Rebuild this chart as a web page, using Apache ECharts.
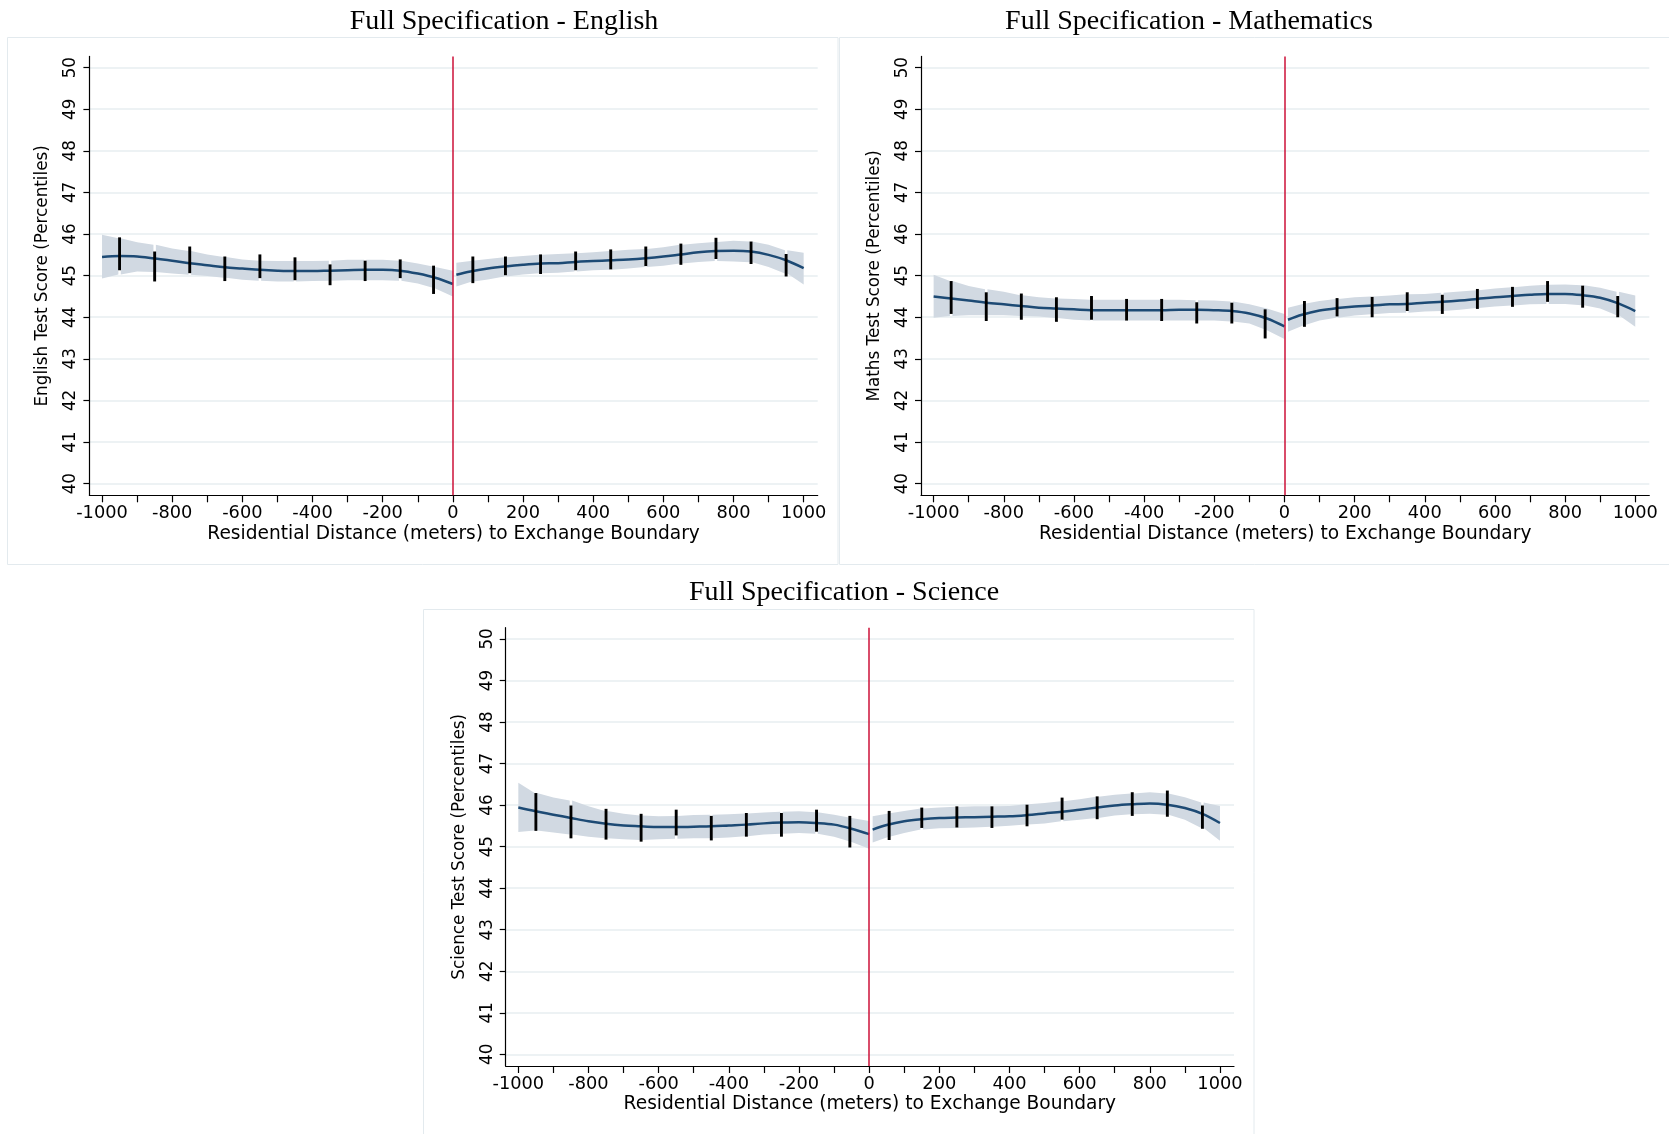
<!DOCTYPE html>
<html><head><meta charset="utf-8">
<script src="https://cdn.jsdelivr.net/npm/echarts@6/dist/echarts.min.js"></script>
<style>html,body{margin:0;padding:0;background:#fff}#c{width:1669px;height:1134px}</style>
</head><body><div id="c"></div>
<script>
// ---------- data ----------
const distLeft  = [-1000,-950,-900,-850,-800,-750,-700,-650,-600,-550,-500,-450,-400,-350,-300,-250,-200,-150,-100,-50,0];
const distRight = [10,50,100,150,200,250,300,350,400,450,500,550,600,650,700,750,800,850,900,950,1000];
const barDist   = [-950,-850,-750,-650,-550,-450,-350,-250,-150,-55,57,150,250,350,450,550,650,750,850,950];
const segLeft   = [[-1000,-950],[-950,-850],[-850,-750],[-750,-650],[-650,-550],[-550,-450],[-450,-350],[-350,-250],[-250,-150],[-150,0]];
const segRight  = [[10,150],[150,250],[250,350],[350,450],[450,550],[550,650],[650,750],[750,850],[850,950],[950,1000]];
const xTicks      = [-1000,-900,-800,-700,-600,-500,-400,-300,-200,-100,0,100,200,300,400,500,600,700,800,900,1000];
const xTickLabels = [-1000,-800,-600,-400,-200,0,200,400,600,800,1000];
const yTicks      = [40,41,42,43,44,45,46,47,48,49,50];

const titles = ['Full Specification - English','Full Specification - Mathematics','Full Specification - Science'];
const yNames = ['English Test Score (Percentiles)','Maths Test Score (Percentiles)','Science Test Score (Percentiles)'];
const xName  = 'Residential Distance (meters) to Exchange Boundary';

// English
const engLineL = [45.45,45.47,45.46,45.41,45.36,45.30,45.25,45.20,45.17,45.14,45.12,45.11,45.11,45.12,45.13,45.14,45.14,45.12,45.05,44.95,44.80];
const engHiL   = [45.98,45.90,45.80,45.74,45.65,45.59,45.51,45.45,45.39,45.36,45.35,45.35,45.35,45.36,45.38,45.38,45.38,45.36,45.29,45.21,45.12];
const engLoL   = [44.93,45.03,45.10,45.09,45.05,45.02,44.99,44.95,44.90,44.88,44.86,44.86,44.87,44.88,44.89,44.89,44.89,44.88,44.81,44.69,44.50];
const engLineR = [45.02,45.10,45.17,45.22,45.26,45.29,45.30,45.33,45.35,45.37,45.39,45.42,45.46,45.51,45.56,45.59,45.60,45.58,45.50,45.37,45.18];
const engHiR   = [45.31,45.35,45.40,45.44,45.47,45.50,45.52,45.54,45.56,45.59,45.62,45.64,45.68,45.74,45.78,45.81,45.84,45.82,45.74,45.61,45.55];
const engLoR   = [44.74,44.85,44.91,44.98,45.03,45.06,45.07,45.10,45.13,45.14,45.17,45.21,45.24,45.29,45.33,45.35,45.34,45.32,45.21,45.05,44.79];
const engBarLo = [45.13,44.86,45.06,44.87,44.94,44.89,44.77,44.87,44.94,44.56,44.82,45.01,45.04,45.13,45.15,45.23,45.26,45.40,45.28,44.98];
const engBarHi = [45.92,45.58,45.70,45.46,45.51,45.44,45.27,45.36,45.39,45.24,45.46,45.46,45.51,45.58,45.63,45.70,45.77,45.91,45.82,45.52];

// Mathematics
const matLineL = [44.50,44.45,44.40,44.35,44.31,44.27,44.23,44.21,44.19,44.17,44.17,44.17,44.17,44.17,44.18,44.18,44.17,44.15,44.09,43.97,43.78];
const matHiL   = [45.02,44.87,44.75,44.67,44.61,44.53,44.48,44.45,44.44,44.42,44.42,44.42,44.42,44.42,44.42,44.41,44.40,44.38,44.31,44.21,44.08];
const matLoL   = [43.99,44.03,44.05,44.05,44.05,44.03,44.02,43.98,43.94,43.92,43.92,43.92,43.92,43.92,43.92,43.92,43.92,43.90,43.85,43.69,43.48];
const matLineR = [43.94,44.06,44.16,44.22,44.26,44.28,44.31,44.32,44.35,44.37,44.40,44.44,44.48,44.51,44.54,44.56,44.56,44.53,44.47,44.34,44.15];
const matHiR   = [44.23,44.31,44.39,44.44,44.48,44.50,44.52,44.55,44.56,44.59,44.62,44.65,44.69,44.72,44.76,44.78,44.79,44.77,44.71,44.61,44.52];
const matLoR   = [43.65,43.79,43.92,43.99,44.04,44.07,44.10,44.11,44.14,44.15,44.18,44.22,44.26,44.28,44.31,44.32,44.32,44.29,44.21,44.05,43.77];
const matBarLo = [44.08,43.91,43.94,43.89,43.94,43.92,43.91,43.85,43.85,43.49,43.77,44.02,44.00,44.15,44.08,44.20,44.25,44.37,44.23,44.00];
const matBarHi = [44.87,44.60,44.57,44.48,44.51,44.44,44.44,44.36,44.35,44.19,44.39,44.46,44.49,44.60,44.54,44.68,44.73,44.87,44.76,44.51];

// Science
const sciLineL = [45.94,45.85,45.77,45.69,45.61,45.55,45.51,45.49,45.47,45.47,45.48,45.49,45.51,45.53,45.56,45.58,45.59,45.57,45.53,45.43,45.30];
const sciHiL   = [46.54,46.29,46.18,46.11,45.97,45.86,45.79,45.75,45.73,45.74,45.76,45.77,45.78,45.80,45.82,45.84,45.85,45.83,45.77,45.69,45.62];
const sciLoL   = [45.35,45.39,45.34,45.29,45.24,45.20,45.18,45.16,45.18,45.19,45.20,45.20,45.22,45.25,45.29,45.31,45.33,45.31,45.24,45.11,44.95];
const sciLineR = [45.41,45.52,45.61,45.66,45.69,45.70,45.71,45.72,45.73,45.76,45.80,45.84,45.89,45.94,45.99,46.02,46.04,46.01,45.93,45.79,45.57];
const sciHiR   = [45.73,45.79,45.86,45.92,45.94,45.96,45.97,45.97,45.98,46.02,46.05,46.09,46.14,46.20,46.25,46.28,46.31,46.28,46.19,46.06,45.98];
const sciLoR   = [45.10,45.22,45.33,45.41,45.44,45.45,45.46,45.48,45.50,45.53,45.56,45.61,45.65,45.69,45.75,45.78,45.79,45.77,45.65,45.45,45.14];
const sciBarLo = [45.38,45.20,45.17,45.12,45.27,45.15,45.24,45.24,45.36,44.98,45.16,45.45,45.46,45.45,45.49,45.65,45.66,45.74,45.72,45.43];
const sciBarHi = [46.29,45.99,45.91,45.79,45.89,45.74,45.81,45.81,45.89,45.74,45.86,45.94,45.97,45.97,46.01,46.18,46.21,46.31,46.35,45.99];

// ---------- styling / layout ----------
const LINE_COLOR = '#1d4a74';
const BAND_COLOR = '#d1d9e2';
const RED = '#cc1138';
const SANS = 'DejaVu Sans';
const SERIF = 'Liberation Serif';

const panels = [
  {lineL:engLineL, hiL:engHiL, loL:engLoL, lineR:engLineR, hiR:engHiR, loR:engLoR, bLo:engBarLo, bHi:engBarHi},
  {lineL:matLineL, hiL:matHiL, loL:matLoL, lineR:matLineR, hiR:matHiR, loR:matLoR, bLo:matBarLo, bHi:matBarHi},
  {lineL:sciLineL, hiL:sciHiL, loL:sciLoL, lineR:sciLineR, hiR:sciHiR, loR:sciLoR, bLo:sciBarLo, bHi:sciBarHi}
];
const grids = [
  {left:89.4, top:56.4, width:728.3, height:438.9},
  {left:921,  top:56.4, width:728.3, height:438.9},
  {left:505.7, top:627.7, width:728.3, height:438.3}
];
const titlePos = [{x:499, y:3}, {x:1184, y:3}, {x:839, y:574}];

function pairs(xs, ys){ return xs.map((x,i)=>[x, ys[i]]); }

function bandSeries(gi, xs, lo, hi, segs){
  return {
    type:'custom', xAxisIndex:gi, yAxisIndex:gi, silent:true, z:1, clip:true,
    data: segs.map(s => [s[0], s[1], lo[xs.indexOf(s[0])]]),
    encode:{x:[0,1], y:2},
    renderItem: function(params, api){
      const x0 = api.value(0), x1 = api.value(1);
      const top = [], bot = [];
      for (let i=0;i<xs.length;i++){
        if (xs[i] >= x0 && xs[i] <= x1){
          top.push(api.coord([xs[i], hi[i]]));
          bot.push(api.coord([xs[i], lo[i]]));
        }
      }
      const g = 1.2;
      if (x0 !== xs[0]) { top[0][0] += g; bot[0][0] += g; }
      if (x1 !== xs[xs.length-1]) { top[top.length-1][0] -= g; bot[bot.length-1][0] -= g; }
      return {type:'polygon', shape:{points: top.concat(bot.reverse())}, style:{fill:BAND_COLOR}};
    }
  };
}

function barSeries(gi, lo, hi){
  return {
    type:'custom', xAxisIndex:gi, yAxisIndex:gi, silent:true, z:4,
    data: barDist.map((x,i)=>[x, lo[i], hi[i]]),
    encode:{x:0, y:[1,2]},
    renderItem: function(params, api){
      const p0 = api.coord([api.value(0), api.value(1)]);
      const p1 = api.coord([api.value(0), api.value(2)]);
      return {type:'line', shape:{x1:p0[0], y1:p0[1], x2:p1[0], y2:p1[1]}, style:{stroke:'#000', lineWidth:2.9}};
    }
  };
}

function lineSeries(gi, xs, ys, withMark){
  const s = {
    type:'line', xAxisIndex:gi, yAxisIndex:gi, data:pairs(xs, ys), smooth:0.35,
    showSymbol:false, silent:true, z:3,
    lineStyle:{color:LINE_COLOR, width:2.5}
  };
  if (withMark){
    s.markLine = {silent:true, symbol:['none','none'], label:{show:false},
      lineStyle:{color:RED, width:1.5, type:'solid'}, data:[{xAxis:0}], animation:false};
  }
  return s;
}

const option = {
  animation:false,
  backgroundColor:'#fff',
  title: titles.map((t,i)=>({text:t, left:titlePos[i].x, top:titlePos[i].y, textAlign:'center',
    textStyle:{fontFamily:SERIF, fontSize:28, fontWeight:'normal', color:'#000'}})),
  graphic: [
    {type:'rect', silent:true, z:-1, shape:{x:7.5, y:37.5, width:830.5, height:527}, style:{fill:'none', stroke:'#e3eaee', lineWidth:1}},
    {type:'rect', silent:true, z:-1, shape:{x:839.5, y:37.5, width:840, height:527}, style:{fill:'none', stroke:'#e3eaee', lineWidth:1}},
    {type:'rect', silent:true, z:-1, shape:{x:423.5, y:609.5, width:830.5, height:540}, style:{fill:'none', stroke:'#e3eaee', lineWidth:1}}
  ],
  grid: grids,
  xAxis: grids.map((g,gi)=>({
    gridIndex:gi, type:'value', min:-1036, max:1040,
    name:xName, nameLocation:'middle', nameGap:29,
    nameTextStyle:{fontFamily:SANS, fontSize:18.6, color:'#000'},
    axisLine:{show:true, onZero:false, lineStyle:{color:'#000', width:1.2}},
    axisTick:{show:true, customValues:xTicks, length:7, lineStyle:{color:'#000', width:1.2}},
    axisLabel:{show:true, customValues:xTickLabels, formatter:v=>String(v), fontFamily:SANS, fontSize:17.8, color:'#000', margin:9},
    splitLine:{show:false}
  })),
  yAxis: grids.map((g,gi)=>({
    gridIndex:gi, type:'value', min:39.72, max:50.27,
    name:yNames[gi], nameLocation:'middle', nameGap:38,
    nameTextStyle:{fontFamily:SANS, fontSize:16.8, color:'#000'},
    axisLine:{show:true, onZero:false, lineStyle:{color:'#000', width:1.2}},
    axisTick:{show:true, customValues:yTicks, length:6, lineStyle:{color:'#000', width:1.2}},
    axisLabel:{show:true, customValues:yTicks, rotate:90, formatter:v=>String(v), fontFamily:SANS, fontSize:16.8, color:'#000', margin:10},
    splitLine:{show:true, lineStyle:{color:'#e7eef1', width:1.5}}
  })),
  series: []
};

panels.forEach((p,gi)=>{
  option.series.push(bandSeries(gi, distLeft, p.loL, p.hiL, segLeft));
  option.series.push(bandSeries(gi, distRight, p.loR, p.hiR, segRight));
  option.series.push(lineSeries(gi, distLeft, p.lineL, true));
  option.series.push(lineSeries(gi, distRight, p.lineR, false));
  option.series.push(barSeries(gi, p.bLo, p.bHi));
});

const chart = echarts.init(document.getElementById('c'), null, {renderer:'canvas'});
chart.setOption(option);
</script>
</body></html>
